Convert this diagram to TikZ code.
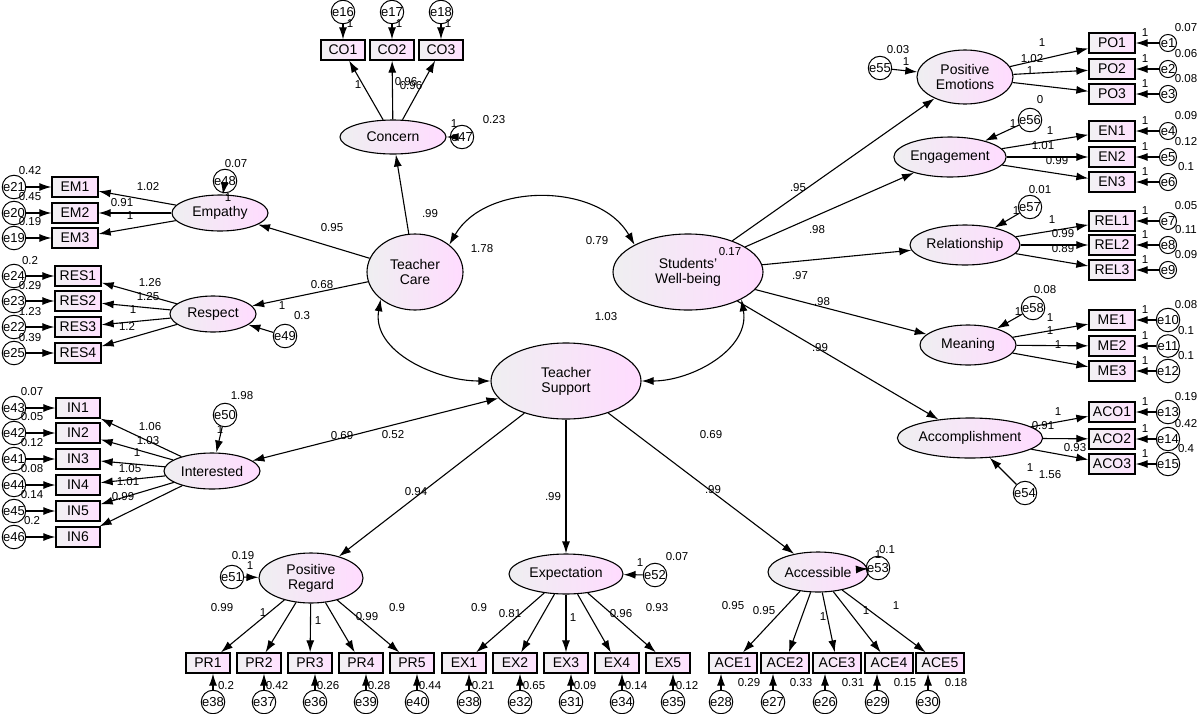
\documentclass[tikz,border=0pt]{standalone}
\usepackage{fontspec}
\setmainfont{Liberation Sans}
\usetikzlibrary{arrows.meta,shapes.geometric}
\begin{document}
\begin{tikzpicture}[x=1pt,y=-1pt,
  lat/.style={ellipse,draw,line width=1.1pt,left color=blue!6!gray!12,right color=magenta!14,inner sep=0,font=\fontsize{14}{15}\selectfont,align=center},
  obs/.style={rectangle,draw,line width=1.3pt,left color=blue!6!gray!10,right color=magenta!12,minimum height=20,inner sep=2,font=\fontsize{14}{14}\selectfont},
  err/.style={circle,draw,line width=1pt,minimum size=13,inner sep=0,font=\fontsize{13}{13}\selectfont},
  num/.style={font=\fontsize{11.5}{11.5}\selectfont,inner sep=0},
  arr/.style={-{Latex[length=12pt,width=8pt]},line width=1.1pt},
  dbl/.style={{Latex[length=12pt,width=8pt]}-{Latex[length=12pt,width=8pt]},line width=1.1pt}]
\useasboundingbox (0,0) rectangle (1200,713);
\fill[white] (0,0) rectangle (1200,713);
% latent
\node[lat,minimum width=96,minimum height=76] (TC) at (415,272) {Teacher\\Care};
\node[lat,minimum width=150,minimum height=76] (SW) at (688,272) {Students'\\Well-being};
\node[lat,minimum width=150,minimum height=76] (TS) at (566,381) {Teacher\\Support};
\node[lat,minimum width=106,minimum height=34] (CN) at (393,137) {Concern};
\node[lat,minimum width=96,minimum height=36] (EP) at (220,213) {Empathy};
\node[lat,minimum width=86,minimum height=36] (RP) at (213,314) {Respect};
\node[lat,minimum width=96,minimum height=36] (IT) at (212,471) {Interested};
\node[lat,minimum width=96,minimum height=54] (PE) at (965,77) {Positive\\Emotions};
\node[lat,minimum width=110,minimum height=40] (EN) at (950,157) {Engagement};
\node[lat,minimum width=110,minimum height=40] (RL) at (965,245) {Relationship};
\node[lat,minimum width=96,minimum height=40] (ME) at (968,345) {Meaning};
\node[lat,minimum width=124,minimum height=40] (AC) at (970,438) {Accomplishment};
\node[lat,minimum width=104,minimum height=50] (PR) at (311,578) {Positive\\Regard};
\node[lat,minimum width=114,minimum height=40] (EX) at (566,574) {Expectation};
\node[lat,minimum width=100,minimum height=40] (AS) at (818,572) {Accessible};
% structural
\draw[arr] (TC) -- (CN); \node[num] at (430,214) {.99};
\draw[arr] (TC) -- (EP); \node[num] at (332,228) {0.95};
\draw[arr] (TC) -- (RP); \node[num] at (322,285) {0.68};
\draw[dbl] (TS) -- (IT); \node[num] at (342,436) {0.69};
\draw[arr] (TS) -- (PR); \node[num] at (416,492) {0.94};
\draw[arr] (TS) -- (EX); \node[num] at (553,497) {.99};
\draw[arr] (TS) -- (AS); \node[num] at (713,490) {.99};
\draw[arr] (SW) -- (PE); \node[num] at (798,188) {.95};
\draw[arr] (SW) -- (EN); \node[num] at (817,230) {.98};
\draw[arr] (SW) -- (RL); \node[num] at (800,276) {.97};
\draw[arr] (SW) -- (ME); \node[num] at (822,302) {.98};
\draw[arr] (SW) -- (AC); \node[num] at (820,348) {.99};
\draw[dbl] (TC.north east) to[out=60,in=120] (SW.north west); \node[num] at (597,241) {0.79};
\draw[dbl] (TC.south west) to[out=-100,in=180] (TS.west); \node[num] at (393,435) {0.52};
\draw[dbl] (SW.south east) to[out=-80,in=0] (TS.east); \node[num] at (711,435) {0.69};
\node[num] at (482,249) {1.78}; \node[num] at (730,252) {0.17}; \node[num] at (606,317) {1.03};
% Concern indicators
\foreach \n/\x/\e/\l in {CO1/343/16/1,CO2/392/17/0.96,CO3/441/18/0.96}{
  \node[obs,minimum width=44] (\n) at (\x,50) {\n};
  \node[err] (e\e) at (\x,12) {e\e};
  \draw[arr] (e\e) -- (\n); \node[num] at (\x+7,24) {1};
  \draw[arr] (CN) -- (\n);}
\node[num] at (358,85) {1}; \node[num] at (406,82) {0.96}; \node[num] at (411,86) {0.96};
\node[err] (e47) at (462,137) {e47}; \draw[arr] (e47) -- (CN);
\node[num] at (494,120) {0.23}; \node[num] at (454,124) {1};
% Empathy
\foreach \n/\y/\e/\v in {EM1/187/21/0.42,EM2/213/20/0.45,EM3/238/19/0.19}{
  \node[obs,minimum width=46] (\n) at (75,\y) {\n};
  \node[err] (e\e) at (14,\y) {e\e};
  \draw[arr] (e\e) -- (\n); \node[num] at (30,\y-16) {\v};
  \draw[arr] (EP) -- (\n);}
\node[num] at (148,187) {1.02}; \node[num] at (122,203) {0.91}; \node[num] at (130,216) {1};
\node[err] (e48) at (225,181) {e48}; \draw[arr] (e48) -- (EP);
\node[num] at (236,164) {0.07}; \node[num] at (228,198) {1};
% Respect
\foreach \n/\y/\e/\v in {RES1/276/24/0.2,RES2/301/23/0.29,RES3/327/22/1.23,RES4/353/25/0.39}{
  \node[obs,minimum width=46] (\n) at (78,\y) {\n};
  \node[err] (e\e) at (14,\y) {e\e};
  \draw[arr] (e\e) -- (\n); \node[num] at (30,\y-15) {\v};
  \draw[arr] (RP) -- (\n);}
\node[num] at (150,283) {1.26}; \node[num] at (148,297) {1.25}; \node[num] at (133,310) {1}; \node[num] at (127,326) {1.2};
\node[err] (e49) at (285,336) {e49}; \draw[arr] (e49) -- (RP);
\node[num] at (302,316) {0.3}; \node[num] at (282,306) {1};
% Interested
\foreach \n/\y/\e/\v in {IN1/408/43/0.07,IN2/433/42/0.05,IN3/459/41/0.12,IN4/485/44/0.08,IN5/511/45/0.14,IN6/537/46/0.2}{
  \node[obs,minimum width=44] (\n) at (78,\y) {\n};
  \node[err] (e\e) at (14,\y) {e\e};
  \draw[arr] (e\e) -- (\n); \node[num] at (32,\y-16) {\v};
  \draw[arr] (IT) -- (\n);}
\node[num] at (150,427) {1.06}; \node[num] at (148,441) {1.03}; \node[num] at (137,453) {1};
\node[num] at (130,469) {1.05}; \node[num] at (128,482) {1.01}; \node[num] at (123,497) {0.99};
\node[err] (e50) at (225,415) {e50}; \draw[arr] (e50) -- (IT);
\node[num] at (242,396) {1.98}; \node[num] at (220,430) {1};
% right side
\foreach \lv/\n/\y/\e/\v in {PE/PO1/43/1/0.07,PE/PO2/69/2/0.06,PE/PO3/94/3/0.08,
  EN/EN1/131/4/0.09,EN/EN2/157/5/0.12,EN/EN3/182/6/0.1,
  RL/REL1/221/7/0.05,RL/REL2/245/8/0.11,RL/REL3/270/9/0.09,
  ME/ME1/320/10/0.08,ME/ME2/346/11/0.1,ME/ME3/371/12/0.1,
  AC/ACO1/412/13/0.19,AC/ACO2/439/14/0.42,AC/ACO3/464/15/0.4}{
  \node[obs,minimum width=46] (\n) at (1112,\y) {\n};
  \node[err] (e\e) at (1168,\y) {e\e};
  \draw[arr] (e\e) -- (\n); \node[num] at (1145,\y-10) {1};
  \node[num] at (1186,\y-15) {\v};
  \draw[arr] (\lv) -- (\n);}
\node[num] at (1042,43) {1}; \node[num] at (1032,59) {1.02}; \node[num] at (1030,71) {1};
\node[num] at (1050,131) {1}; \node[num] at (1043,146) {1.01}; \node[num] at (1057,161) {0.99};
\node[num] at (1052,220) {1}; \node[num] at (1063,234) {0.99}; \node[num] at (1063,249) {0.89};
\node[num] at (1050,318) {1}; \node[num] at (1050,331) {1}; \node[num] at (1058,345) {1};
\node[num] at (1058,412) {1}; \node[num] at (1043,426) {0.91}; \node[num] at (1075,448) {0.93};
\node[err] (e55) at (880,68) {e55}; \draw[arr] (e55) -- (PE); \node[num] at (898,50) {0.03}; \node[num] at (906,62) {1};
\node[err] (e56) at (1030,120) {e56}; \draw[arr] (e56) -- (EN); \node[num] at (1040,100) {0}; \node[num] at (1013,124) {1};
\node[err] (e57) at (1030,207) {e57}; \draw[arr] (e57) -- (RL); \node[num] at (1040,190) {0.01}; \node[num] at (1016,211) {1};
\node[err] (e58) at (1033,308) {e58}; \draw[arr] (e58) -- (ME); \node[num] at (1045,290) {0.08}; \node[num] at (1018,312) {1};
\node[err] (e54) at (1025,493) {e54}; \draw[arr] (e54) -- (AC); \node[num] at (1050,475) {1.56}; \node[num] at (1030,468) {1};
% bottom
\foreach \lv/\n/\x/\e/\v in {PR/PR1/208/38/0.2,PR/PR2/259/37/0.42,PR/PR3/310/36/0.26,PR/PR4/361/39/0.28,PR/PR5/412/40/0.44}{
  \node[obs,minimum width=44] (\n) at (\x,663) {\n};
  \node[err] (e\e) at (\x+5,702) {e\e};
  \draw[arr] (e\e) -- (\n.south -| e\e); \node[num] at (\x+18,686) {\v};
  \draw[arr] (\lv) -- (\n);}
\foreach \lv/\n/\x/\e/\v in {EX/EX1/464/38/0.21,EX/EX2/515/32/0.65,EX/EX3/566/31/0.09,EX/EX4/617/34/0.14,EX/EX5/668/35/0.12}{
  \node[obs,minimum width=44] (\n) at (\x,663) {\n};
  \node[err] (e\e) at (\x+5,702) {e\e};
  \draw[arr] (e\e) -- (\n.south -| e\e); \node[num] at (\x+19,686) {\v};
  \draw[arr] (\lv) -- (\n);}
\foreach \lv/\n/\x/\e/\v in {AS/ACE1/733/28/0.29,AS/ACE2/785/27/0.33,AS/ACE3/837/26/0.31,AS/ACE4/889/29/0.15,AS/ACE5/940/30/0.18}{
  \node[obs,minimum width=48] (\n) at (\x,663) {\n};
  \node[err] (e\e) at (\x-12,702) {e\e};
  \draw[arr] (e\e) -- (\n.south -| e\e); \node[num] at (\x+16,683) {\v};
  \draw[arr] (\lv) -- (\n);}
\node[num] at (222,608) {0.99}; \node[num] at (263,613) {1}; \node[num] at (318,621) {1}; \node[num] at (367,617) {0.99}; \node[num] at (397,608) {0.9};
\node[num] at (479,608) {0.9}; \node[num] at (510,614) {0.81}; \node[num] at (573,618) {1}; \node[num] at (621,614) {0.96}; \node[num] at (657,608) {0.93};
\node[num] at (733,606) {0.95}; \node[num] at (764,611) {0.95}; \node[num] at (823,617) {1}; \node[num] at (866,611) {1}; \node[num] at (896,606) {1};
\node[err] (e51) at (232,577) {e51}; \draw[arr] (e51) -- (PR); \node[num] at (243,556) {0.19}; \node[num] at (250,566) {1};
\node[err] (e52) at (655,575) {e52}; \draw[arr] (e52) -- (EX); \node[num] at (677,557) {0.07}; \node[num] at (640,563) {1};
\node[err] (e53) at (878,568) {e53}; \draw[arr] (e53) -- (AS); \node[num] at (887,550) {0.1}; \node[num] at (878,555) {1};
\end{tikzpicture}
\end{document}
